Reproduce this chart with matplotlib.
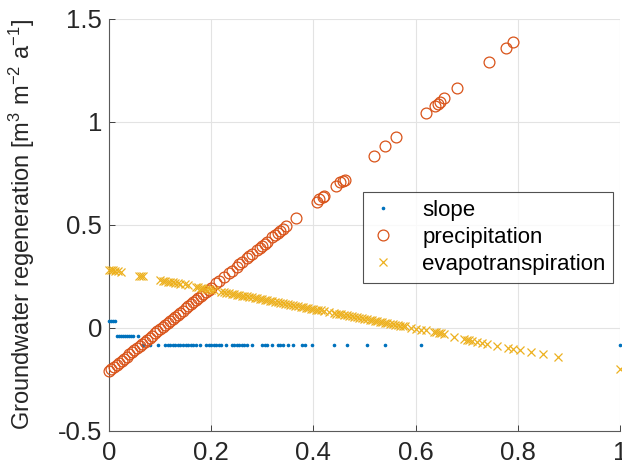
import matplotlib
matplotlib.use("Agg")
import matplotlib.pyplot as plt

plt.rcParams['font.family'] = ['Liberation Sans', 'DejaVu Sans']
plt.rcParams['axes.unicode_minus'] = False
plt.rcParams['mathtext.fontset'] = 'custom'
plt.rcParams['mathtext.rm'] = 'Liberation Sans'
plt.rcParams['mathtext.it'] = 'Liberation Sans'

# slope series
slope_x = [0.0, 0.004, 0.008, 0.012,
           0.016, 0.02, 0.024, 0.028, 0.032, 0.036, 0.04, 0.044, 0.047, 0.057,
           0.067, 0.08, 0.096, 0.11, 0.115, 0.12, 0.125, 0.13, 0.135, 0.14, 0.145,
           0.15, 0.155, 0.16, 0.165, 0.17, 0.178, 0.19, 0.195, 0.2, 0.205, 0.21,
           0.215, 0.22, 0.23, 0.24, 0.245, 0.25, 0.255, 0.26, 0.265, 0.27, 0.28,
           0.30, 0.305, 0.31, 0.32, 0.33, 0.335, 0.34, 0.35, 0.36, 0.377, 0.383,
           0.398, 0.441, 0.465, 0.504, 0.541, 0.61, 1.0]
slope_y = [0.036, 0.036, 0.036, 0.036,
           -0.041, -0.041, -0.041, -0.041, -0.041, -0.041, -0.041, -0.041, -0.041, -0.041,
           -0.084, -0.084, -0.084, -0.084, -0.084, -0.084, -0.084, -0.084, -0.084, -0.084, -0.084,
           -0.084, -0.084, -0.084, -0.084, -0.084, -0.084, -0.084, -0.084, -0.084, -0.084, -0.084,
           -0.084, -0.084, -0.084, -0.084, -0.084, -0.084, -0.084, -0.084, -0.084, -0.084, -0.084,
           -0.084, -0.084, -0.084, -0.084, -0.084, -0.084, -0.084, -0.084, -0.084, -0.084, -0.084,
           -0.084, -0.084, -0.084, -0.084, -0.084, -0.084, -0.084]

# precipitation series
precip_x = [0.0, 0.005, 0.01, 0.015, 0.02, 0.025, 0.03, 0.035, 0.04, 0.045, 0.05,
            0.055, 0.06, 0.065, 0.07, 0.075, 0.08, 0.085, 0.09, 0.095, 0.1, 0.105,
            0.11, 0.115, 0.12, 0.125, 0.13, 0.135, 0.14, 0.145, 0.15, 0.155, 0.16,
            0.165, 0.17, 0.175, 0.18, 0.185, 0.19, 0.195, 0.2, 0.21, 0.215, 0.225,
            0.235, 0.24, 0.25, 0.255, 0.26, 0.27, 0.275, 0.28, 0.29, 0.295, 0.3,
            0.305, 0.31, 0.32, 0.325, 0.33, 0.335, 0.34, 0.347,
            0.367, 0.408, 0.412, 0.418, 0.421, 0.445, 0.453, 0.457, 0.461, 0.518,
            0.541, 0.562, 0.621, 0.637, 0.644, 0.648, 0.656, 0.680, 0.743, 0.776, 0.790]
precip_y = [-0.210, -0.200, -0.190, -0.180, -0.169, -0.159, -0.149, -0.139, -0.129, -0.119, -0.109,
            -0.098, -0.088, -0.078, -0.068, -0.058, -0.048, -0.037, -0.027, -0.017, -0.007, 0.003,
            0.013, 0.023, 0.034, 0.044, 0.054, 0.064, 0.074, 0.084, 0.095, 0.105, 0.115,
            0.125, 0.135, 0.145, 0.155, 0.166, 0.176, 0.186, 0.196, 0.216, 0.226, 0.247,
            0.267, 0.277, 0.298, 0.308, 0.318, 0.338, 0.348, 0.358, 0.379, 0.389, 0.399,
            0.409, 0.419, 0.440, 0.450, 0.460, 0.470, 0.480, 0.494,
            0.534, 0.612, 0.626, 0.635, 0.640, 0.690, 0.709, 0.714, 0.718, 0.835,
            0.883, 0.927, 1.044, 1.078, 1.087, 1.097, 1.117, 1.165, 1.291, 1.359, 1.388]

# evapotranspiration series
evap_x = [0.0, 0.004, 0.008, 0.013, 0.018, 0.024,
          0.058, 0.062, 0.066,
          0.100, 0.105, 0.11, 0.115, 0.12, 0.125, 0.13, 0.135, 0.14, 0.148, 0.155,
          0.17, 0.175, 0.18, 0.185, 0.19, 0.195, 0.2, 0.205,
          0.22, 0.225, 0.23, 0.235, 0.24, 0.245, 0.25, 0.255, 0.26, 0.265, 0.27, 0.275,
          0.28, 0.285, 0.29, 0.295, 0.3, 0.305, 0.31, 0.315, 0.32, 0.325, 0.33, 0.335,
          0.34, 0.345, 0.35, 0.355, 0.36, 0.365, 0.37, 0.375, 0.38, 0.385, 0.39, 0.395,
          0.4, 0.405, 0.41, 0.415, 0.42,
          0.43, 0.44, 0.445, 0.45, 0.455, 0.46, 0.465, 0.47, 0.475, 0.48, 0.485, 0.49,
          0.495, 0.5, 0.505, 0.51, 0.515, 0.52, 0.525, 0.53, 0.535, 0.54, 0.545, 0.55,
          0.555, 0.56, 0.565, 0.57, 0.575, 0.58, 0.59, 0.6, 0.61, 0.62, 0.635, 0.64,
          0.645, 0.65, 0.655,
          0.676, 0.695, 0.70, 0.705, 0.71, 0.72, 0.73, 0.74, 0.76, 0.78, 0.79, 0.805,
          0.825, 0.85, 0.878, 1.0]
evap_y = [0.283, 0.280, 0.279, 0.276, 0.274, 0.271,
          0.254, 0.252, 0.250,
          0.232, 0.230, 0.228, 0.225, 0.223, 0.221, 0.218, 0.216, 0.214, 0.211, 0.207,
          0.200, 0.197, 0.195, 0.193, 0.190, 0.188, 0.186, 0.183,
          0.176, 0.174, 0.171, 0.169, 0.167, 0.164, 0.162, 0.160, 0.157, 0.155, 0.153, 0.150,
          0.148, 0.146, 0.143, 0.141, 0.139, 0.136, 0.134, 0.131, 0.129, 0.127, 0.124, 0.122,
          0.120, 0.117, 0.115, 0.113, 0.110, 0.108, 0.106, 0.103, 0.101, 0.099, 0.096, 0.094,
          0.092, 0.089, 0.087, 0.085, 0.082,
          0.077, 0.073, 0.070, 0.068, 0.066, 0.063, 0.061, 0.058, 0.056, 0.054, 0.051, 0.049,
          0.047, 0.044, 0.042, 0.040, 0.037, 0.035, 0.033, 0.030, 0.028, 0.026, 0.023, 0.021,
          0.019, 0.016, 0.014, 0.011, 0.009, 0.007, 0.002, -0.003, -0.008, -0.012, -0.020, -0.022,
          -0.025, -0.027, -0.030,
          -0.045, -0.055, -0.058, -0.060, -0.062, -0.068, -0.073, -0.078, -0.087, -0.097, -0.101, -0.108,
          -0.117, -0.128, -0.140, -0.200]

x_ticks = [0, 0.2, 0.4, 0.6, 0.8, 1]
x_labels = ['0', '0.2', '0.4', '0.6', '0.8', '1']
y_ticks = [-0.5, 0, 0.5, 1, 1.5]
y_labels = ['-0.5', '0', '0.5', '1', '1.5']
series_labels = ['slope', 'precipitation', 'evapotranspiration']
y_title = r'Groundwater regeneration [m$^3$ m$^{-2}$ a$^{-1}$]'

fig = plt.figure(figsize=(6.22, 4.72), dpi=100)
ax = fig.add_axes([0.175, 0.087, 0.822, 0.873])

ax.plot(slope_x, slope_y, linestyle='none', marker='.', markersize=3.2,
        color='#0072BD', label=series_labels[0], clip_on=False, zorder=3)
ax.plot(precip_x, precip_y, linestyle='none', marker='o', markersize=7.8,
        markerfacecolor='none', markeredgecolor='#D95319', markeredgewidth=0.9,
        label=series_labels[1], clip_on=False, zorder=3)
ax.plot(evap_x, evap_y, linestyle='none', marker='x', markersize=6,
        color='#EDB120', markeredgewidth=0.9, label=series_labels[2],
        clip_on=False, zorder=3)

ax.set_xlim(0, 1)
ax.set_ylim(-0.5, 1.5)
ax.set_xticks(x_ticks)
ax.set_xticklabels(x_labels)
ax.set_yticks(y_ticks)
ax.set_yticklabels(y_labels)
ax.tick_params(direction='in', length=4, width=0.6, labelsize=18.5,
               colors='#262626')
ax.tick_params(axis='x', pad=7)
ax.tick_params(axis='y', pad=5)
ax.grid(True, color='#e3e3e3', linewidth=0.8)
ax.set_axisbelow(True)
for s in ['top', 'right']:
    ax.spines[s].set_visible(False)
for s in ['left', 'bottom']:
    ax.spines[s].set_color('#5a5a5a')
    ax.spines[s].set_linewidth(0.8)
ax.set_ylabel(y_title, fontsize=17, color='#262626', labelpad=15)

leg = ax.legend(loc='upper right', bbox_to_anchor=(0.987, 0.58), fontsize=16,
                frameon=True, fancybox=False, edgecolor='#262626',
                borderpad=0.35, borderaxespad=0.0, handletextpad=1.25,
                labelspacing=0.28, handlelength=1.08, markerscale=1.0)
leg.get_frame().set_linewidth(0.8)

fig.savefig('out.png', dpi=100)
